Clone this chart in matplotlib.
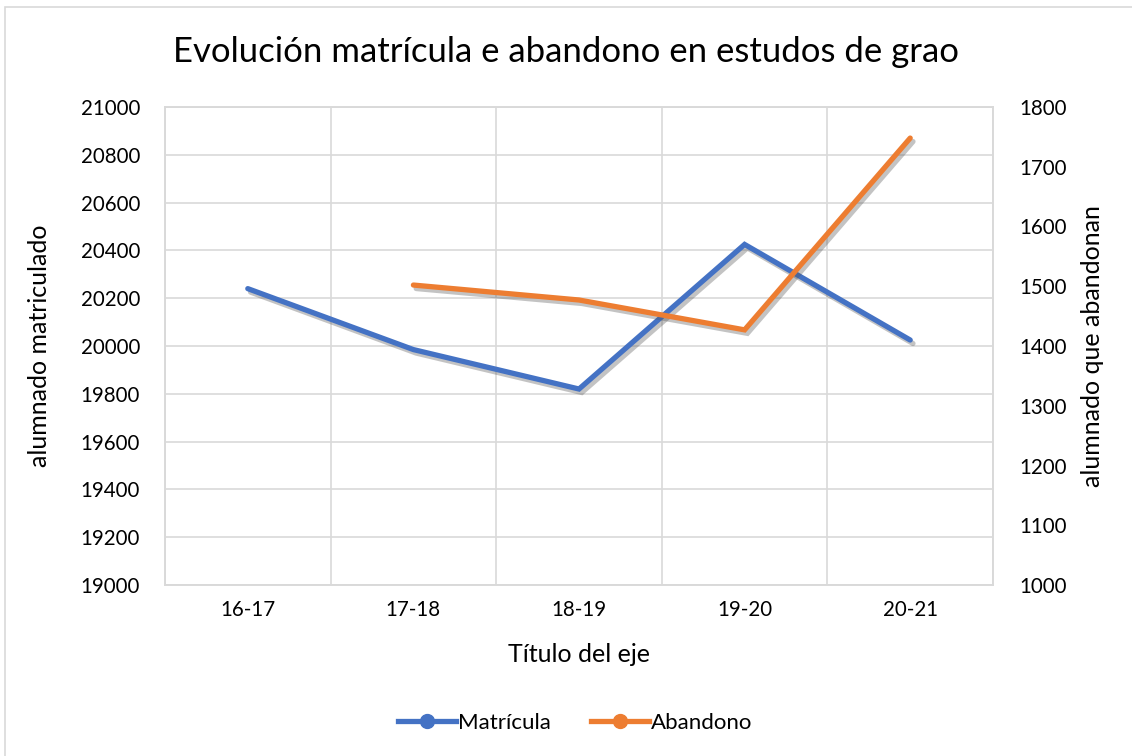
import matplotlib
matplotlib.use('Agg')
import matplotlib.pyplot as plt
import matplotlib.patheffects as pe
from matplotlib.lines import Line2D
from matplotlib.patches import Rectangle
import numpy as np

# --- Data ---
cursos = ['16-17', '17-18', '18-19', '19-20', '20-21']
matricula = [20240, 19985, 19820, 20425, 20025]
abandono = [np.nan, 1502, 1477, 1427, 1748]

BLUE = '#4472C4'
ORANGE = '#ED7D31'
GRID = '#D9D9D9'
TEXT = '#000000'

plt.rcParams['font.family'] = ['Lato', 'DejaVu Sans']

fig = plt.figure(figsize=(11.32, 7.56), dpi=100)
fig.patches.append(Rectangle((5 / 1132, -0.1), 1.2, 1 - 7 / 756 + 0.1,
                             transform=fig.transFigure, fill=False,
                             edgecolor=GRID, linewidth=1.2))

ax = fig.add_axes([165 / 1132, 1 - 585 / 756, 828 / 1132, 478 / 756])
ax2 = ax.twinx()

x = np.arange(len(cursos))
shadow = [pe.SimpleLineShadow(offset=(2, -2.5), alpha=0.35, shadow_color='#555555'), pe.Normal()]

ax.plot(x, matricula, color=BLUE, linewidth=3.8, solid_capstyle='round',
        solid_joinstyle='miter', path_effects=shadow, zorder=3)
ax2.plot(x, abandono, color=ORANGE, linewidth=3.8, solid_capstyle='round',
         solid_joinstyle='miter', path_effects=shadow, zorder=3)

ax.set_xlim(-0.5, len(cursos) - 0.5)
ax.set_ylim(19000, 21000)
ax.set_yticks(np.arange(19000, 21001, 200))
ax2.set_ylim(1000, 1800)
ax2.set_yticks(np.arange(1000, 1801, 100))

ax.set_xticks(x)
ax.set_xticklabels(cursos)
ax.set_xticks(np.arange(-0.5, len(cursos), 1), minor=True)

ax.grid(True, which='major', axis='y', color=GRID, linewidth=1.2)
ax.grid(True, which='minor', axis='x', color=GRID, linewidth=1.2)
ax.grid(False, which='major', axis='x')
ax.set_axisbelow(True)

for a in (ax, ax2):
    for s in a.spines.values():
        s.set_color(GRID)
        s.set_linewidth(1.2)
    a.tick_params(length=0, which='both', labelsize=14.8, colors=TEXT)

ax.tick_params(axis='y', pad=18)
ax.tick_params(axis='x', pad=11)
ax2.tick_params(axis='y', pad=19)

ax.set_ylabel('alumnado matriculado', fontsize=18, va='center')
ax.yaxis.set_label_coords((40 - 165) / 828, 0.5)
ax2.set_ylabel('alumnado que abandonan', fontsize=18, va='center')
ax2.yaxis.set_label_coords((1093 - 165) / 828, 0.5)
ax.set_xlabel('Título del eje', fontsize=18, va='center')
ax.xaxis.set_label_coords(0.5, (585 - 655) / 478)

fig.text(0.5, 1 - 52 / 756, 'Evolución matrícula e abandono en estudos de grao',
         ha='center', va='center', fontsize=25)

handles = [
    Line2D([0], [0], color=BLUE, linewidth=3.8, marker='o', markersize=10),
    Line2D([0], [0], color=ORANGE, linewidth=3.8, marker='o', markersize=10),
]
fig.legend(handles, ['Matrícula', 'Abandono'], loc='center',
           bbox_to_anchor=(575 / 1132, 1 - 723 / 756), ncol=2, frameon=False,
           fontsize=16, handlelength=2.6, handletextpad=0.1, columnspacing=1.8)

fig.savefig('out.png', dpi=100)
